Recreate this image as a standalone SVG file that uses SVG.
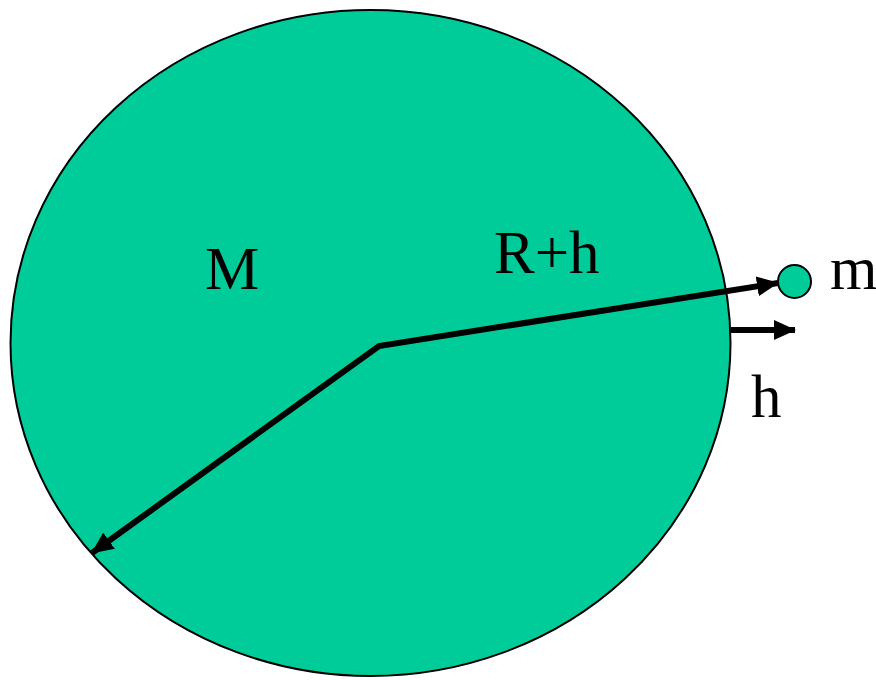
<svg xmlns="http://www.w3.org/2000/svg" width="876" height="680" viewBox="0 0 876 680">
<style>
.body{fill:#00cc99;stroke:#000;stroke-width:2}
.line{fill:none;stroke:#000;stroke-width:6;stroke-linejoin:miter}
.lbl{font-family:"Liberation Serif","Times New Roman",serif;font-size:61px;fill:#000}
</style>
<defs>
<marker id="ah" viewBox="0 0 22 20" refX="21" refY="10" markerWidth="22" markerHeight="20" markerUnits="userSpaceOnUse" orient="auto-start-reverse">
<path d="M0,0 L22,10 L0,20 Z" fill="#000"/>
</marker>
</defs>
<rect width="876" height="680" fill="#fff"/>
<g id="earth">
<ellipse class="body" cx="370.5" cy="343" rx="360" ry="333"/>
<text class="lbl" x="205" y="289">M</text>
</g>
<g id="mass">
<circle class="body" cx="794.5" cy="281.5" r="16.5"/>
<text class="lbl" x="830" y="289">m</text>
</g>
<g id="connectors">
<path class="line" d="M92,553 L379,346 L778,283" marker-start="url(#ah)" marker-end="url(#ah)"/>
<line class="line" x1="731" y1="330" x2="795" y2="330" marker-end="url(#ah)"/>
</g>
<g id="labels">
<text class="lbl" x="494" y="273">R+h</text>
<text class="lbl" x="751" y="417">h</text>
</g>
</svg>
